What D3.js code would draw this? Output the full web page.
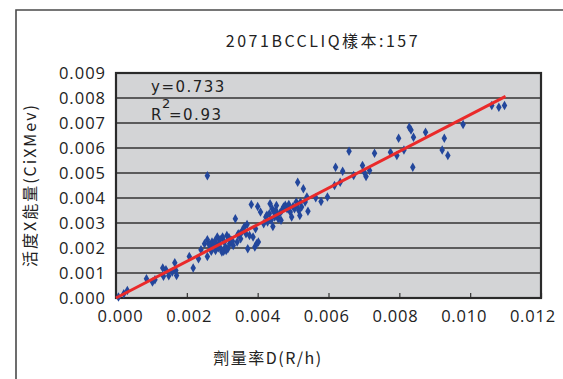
<!DOCTYPE html>
<html>
<head>
<meta charset="utf-8">
<script src="https://cdn.jsdelivr.net/npm/d3@7"></script>
<style>
  body { margin: 0; background: #fff; }
  svg { display: block; }
  text { font-family: "Noto Sans CJK TC", "Noto Sans", sans-serif; fill: #222; }
</style>
</head>
<body>
<svg id="chart" width="563" height="379"></svg>
<script>
// Dose rate D (R/h) for each sample
const doseRate = [
  0.00007, 0.00022, 0.00032, 0.00086, 0.00103, 0.0011, 0.00132, 0.00141, 0.00134, 0.00149,
  0.00166, 0.00169, 0.00171, 0.00159, 0.00207, 0.00218, 0.00233, 0.0024, 0.0025, 0.00258,
  0.00258, 0.00258, 0.00266, 0.00271, 0.00276, 0.00281, 0.00286, 0.00291, 0.00296, 0.00299,
  0.00301, 0.00306, 0.00309, 0.00313, 0.00316, 0.00321, 0.00326, 0.00331, 0.00337, 0.00342,
  0.00347, 0.00352, 0.00357, 0.00362, 0.00367, 0.0037, 0.00372, 0.00377, 0.00382, 0.00387,
  0.00392, 0.00394, 0.00397, 0.00402, 0.004, 0.00408, 0.00417, 0.00423, 0.00428, 0.00433,
  0.00435, 0.00441, 0.00443, 0.00448, 0.00453, 0.00458, 0.00463, 0.00468, 0.00473, 0.00483,
  0.00492, 0.00496, 0.005, 0.00504, 0.00509, 0.00513, 0.00516, 0.00519, 0.00524, 0.00529,
  0.00534, 0.00539, 0.00542, 0.00564, 0.00579, 0.00597, 0.00617, 0.0062, 0.00633, 0.0064,
  0.00658, 0.00671, 0.00696, 0.00701, 0.00706, 0.00716, 0.0073, 0.00775, 0.00793, 0.00798,
  0.00813, 0.00828, 0.00833, 0.00838, 0.0084, 0.00874, 0.00921, 0.00927, 0.00937, 0.0098,
  0.01061, 0.01081, 0.01097, 0.00263, 0.00284, 0.00294, 0.00304, 0.00319, 0.00279, 0.00289,
  0.00311, 0.00329, 0.00344, 0.00355, 0.00269, 0.00446, 0.00456, 0.00466, 0.00478, 0.00488,
  0.00451, 0.00438, 0.00521, 0.00511, 0.00426
];
// Activity × energy (CiXMev) for each sample
const activityEnergy = [
  0.00004, 0.00017, 0.0003, 0.00077, 0.00064, 0.00073, 0.0012, 0.00113, 0.00087, 0.00089,
  0.00141, 0.0011, 0.0009, 0.00104, 0.00166, 0.0012, 0.00157, 0.00193, 0.00217, 0.00233,
  0.00166, 0.00489, 0.00204, 0.00224, 0.0021, 0.0019, 0.00244, 0.0022, 0.00197, 0.00184,
  0.00244, 0.00224, 0.00204, 0.0025, 0.00197, 0.00217, 0.0023, 0.0021, 0.00317, 0.00224,
  0.00257, 0.00237, 0.0027, 0.00284, 0.00257, 0.00294, 0.00197, 0.0025, 0.00374, 0.00244,
  0.00204, 0.00277, 0.00217, 0.00224, 0.00366, 0.00344, 0.00297, 0.00324, 0.00304, 0.00337,
  0.00377, 0.00357, 0.00286, 0.00324, 0.0037, 0.00317, 0.0034, 0.0035, 0.00364, 0.00357,
  0.00344, 0.00324, 0.00366, 0.00357, 0.00384, 0.00463, 0.0035, 0.0033, 0.00364, 0.00437,
  0.00384, 0.00404, 0.00347, 0.00401, 0.00386, 0.00404, 0.0045, 0.00523, 0.00463, 0.00507,
  0.00587, 0.0049, 0.0053, 0.00503, 0.00486, 0.0051, 0.00579, 0.00583, 0.0057, 0.00639,
  0.00592, 0.00683, 0.00672, 0.00523, 0.00643, 0.00663, 0.00592, 0.00639, 0.0057, 0.00694,
  0.0077, 0.00763, 0.0077, 0.00214, 0.00207, 0.00234, 0.00187, 0.00241, 0.00227, 0.00201,
  0.0019, 0.00227, 0.00254, 0.00264, 0.00187, 0.00344, 0.00334, 0.00311, 0.00371, 0.00374,
  0.00351, 0.00311, 0.00384, 0.00371, 0.00331
];

const xTicks = [0, 0.002, 0.004, 0.006, 0.008, 0.010, 0.012];
const yTicks = [0, 0.001, 0.002, 0.003, 0.004, 0.005, 0.006, 0.007, 0.008, 0.009];

const fitSlope = 0.733;
const fitRange = [0, 0.011];
const rSquared = "0.93";

const titleText = "2071BCCLIQ樣本:157";
const xTitle = "劑量率D(R/h)";
const yTitle = "活度X能量(CiXMev)";

const svg = d3.select("#chart");
const plot = { left: 116, top: 73, right: 541, bottom: 298 };

const x = d3.scaleLinear().domain([0, 0.012]).range([plot.left, plot.right]);
const y = d3.scaleLinear().domain([0, 0.009]).range([plot.bottom, plot.top]);

// outer frame of the chart object
svg.append("path")
  .attr("d", "M16,379 L16,10 L563,10")
  .attr("fill", "none").attr("stroke", "#4a4a4a").attr("stroke-width", 1.6);

// plot background
svg.append("rect")
  .attr("x", plot.left).attr("y", plot.top)
  .attr("width", plot.right - plot.left).attr("height", plot.bottom - plot.top)
  .attr("fill", "#d3d4d6");

// horizontal gridlines
svg.append("g").selectAll("line")
  .data(yTicks.slice(1, -1))
  .join("line")
  .attr("x1", plot.left).attr("x2", plot.right)
  .attr("y1", d => y(d)).attr("y2", d => y(d))
  .attr("stroke", "#333").attr("stroke-width", 1.4);

// x axis: inward tick marks and labels (labels set slightly tighter than the ticks)
const tickFont = "'Open Sans', 'Noto Sans', sans-serif";
const xAxis = d3.axisBottom(x).tickValues(xTicks).tickSize(-5).tickPadding(12)
  .tickFormat(d3.format(".3f"));
const gx = svg.append("g").attr("transform", `translate(0,${plot.bottom})`).call(xAxis);
gx.select(".domain").remove();
gx.selectAll(".tick line").attr("stroke", "#333").attr("stroke-width", 1.2);
gx.selectAll(".tick text").attr("font-size", 16.5).attr("fill", "#222")
  .style("font-family", tickFont).attr("letter-spacing", 0.8)
  .attr("dx", (d, i) => 4 - 2.1 * i);

// y axis labels
const yAxis = d3.axisLeft(y).tickValues(yTicks).tickSize(0).tickPadding(10)
  .tickFormat(d3.format(".3f"));
const gy = svg.append("g").attr("transform", `translate(${plot.left},0)`).call(yAxis);
gy.select(".domain").remove();
gy.selectAll(".tick text").attr("font-size", 16.5).attr("fill", "#222")
  .style("font-family", tickFont).attr("letter-spacing", 1);

// plot border
svg.append("rect")
  .attr("x", plot.left).attr("y", plot.top)
  .attr("width", plot.right - plot.left).attr("height", plot.bottom - plot.top)
  .attr("fill", "none").attr("stroke", "#2a2a2a").attr("stroke-width", 2.2);

// sample points
const points = doseRate.map((d, i) => [d, activityEnergy[i]]);
svg.append("g").selectAll("path")
  .data(points)
  .join("path")
  .attr("transform", d => `translate(${x(d[0])},${y(d[1])})`)
  .attr("d", d3.symbol(d3.symbolDiamond, 26))
  .attr("fill", "#23479c");

// linear fit through the origin
svg.append("line")
  .attr("x1", x(fitRange[0])).attr("y1", y(fitSlope * fitRange[0]))
  .attr("x2", x(fitRange[1])).attr("y2", y(fitSlope * fitRange[1]))
  .attr("stroke", "#ea2a2a").attr("stroke-width", 3);

// fit equation
const eqFont = "'DejaVu Sans', sans-serif";
svg.append("text").attr("x", 151).attr("y", 92).attr("font-size", 15)
  .style("font-family", eqFont).attr("letter-spacing", 1.5)
  .text("y=" + fitSlope);
svg.append("text").attr("x", 151).attr("y", 120).attr("font-size", 15)
  .style("font-family", eqFont).text("R");
svg.append("text").attr("x", 162).attr("y", 108).attr("font-size", 13)
  .style("font-family", eqFont).text("2");
svg.append("text").attr("x", 169).attr("y", 120).attr("font-size", 15)
  .style("font-family", eqFont).attr("letter-spacing", 1.5).text("=" + rSquared);

// title
svg.append("text").attr("x", 323).attr("y", 47).attr("text-anchor", "middle")
  .attr("font-size", 16).attr("letter-spacing", 2.5).text(titleText);

// axis titles
svg.append("text").attr("x", 268).attr("y", 364).attr("text-anchor", "middle")
  .attr("font-size", 16).attr("letter-spacing", 1.5).text(xTitle);
svg.append("text")
  .attr("transform", "translate(36,185) rotate(-90)")
  .attr("text-anchor", "middle")
  .attr("font-size", 16).attr("letter-spacing", 2).text(yTitle);
</script>
</body>
</html>
